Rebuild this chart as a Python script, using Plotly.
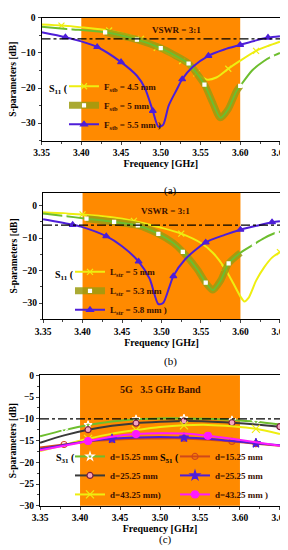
import plotly.graph_objects as go

# ---------------- data ----------------
# panel (a): S11 for different F_stb
freq_a_45 = [3.35, 3.375, 3.40, 3.435, 3.46, 3.475, 3.495, 3.51, 3.527, 3.545, 3.558, 3.57, 3.585, 3.60, 3.62, 3.635, 3.65]
s11_a_45 = [-1.9, -2.2, -2.7, -3.6, -4.9, -6.0, -8.5, -10.3, -12.3, -15.8, -17.6, -17.0, -14.5, -12.2, -9.4, -8.0, -6.8]
freq_a_5 = [3.35, 3.385, 3.43, 3.47, 3.50, 3.515, 3.535, 3.555, 3.565, 3.575, 3.585, 3.595, 3.60, 3.615, 3.63, 3.64, 3.65]
s11_a_5 = [-2.5, -3.2, -4.1, -6.2, -8.6, -10.3, -13.0, -19.0, -24.0, -28.5, -26.0, -21.0, -19.4, -15.0, -12.3, -11.0, -10.0]
freq_a_55 = [3.35, 3.38, 3.40, 3.42, 3.45, 3.47, 3.48, 3.49, 3.497, 3.503, 3.51, 3.52, 3.527, 3.54, 3.56, 3.58, 3.60, 3.62, 3.635, 3.65]
s11_a_55 = [-4.1, -5.5, -6.7, -8.3, -12.6, -16.5, -20.0, -26.5, -31.0, -30.5, -25.0, -20.5, -17.5, -14.0, -10.8, -9.0, -7.7, -6.4, -5.6, -5.2]

# panel (b): S11 for different L_str
freq_b_5 = [3.35, 3.40, 3.435, 3.465, 3.50, 3.525, 3.55, 3.565, 3.58, 3.59, 3.60, 3.605, 3.61, 3.62, 3.63, 3.64, 3.65]
s11_b_5 = [-2.0, -2.7, -3.5, -4.7, -6.8, -8.6, -11.5, -14.5, -19.2, -23.5, -28.0, -29.5, -28.5, -23.0, -19.0, -16.0, -14.3]
freq_b_53 = [3.35, 3.377, 3.405, 3.44, 3.47, 3.496, 3.515, 3.527, 3.545, 3.556, 3.565, 3.575, 3.585, 3.60, 3.617, 3.63, 3.646, 3.65]
s11_b_53 = [-2.4, -3.2, -4.0, -5.0, -6.1, -8.7, -11.5, -14.2, -19.5, -23.7, -26.0, -23.0, -17.8, -14.5, -11.9, -10.0, -8.2, -8.0]
freq_b_58 = [3.35, 3.3875, 3.40, 3.43, 3.45, 3.471, 3.485, 3.496, 3.502, 3.51, 3.515, 3.53, 3.556, 3.58, 3.60, 3.62, 3.64, 3.65]
s11_b_58 = [-4.2, -5.9, -6.6, -9.4, -12.5, -17.2, -22.5, -30.3, -30.0, -25.0, -21.7, -16.5, -11.3, -9.0, -7.4, -6.2, -5.1, -4.8]

# panel (c): S31 / S51 for different d
freq_c = [3.35, 3.38, 3.41, 3.44, 3.47, 3.50, 3.53, 3.56, 3.59, 3.62, 3.65]
s31_c_1525 = [-14.0, -12.6, -11.4, -10.6, -10.1, -9.9, -9.9, -10.0, -10.3, -10.7, -11.3]
s31_c_2525 = [-15.5, -13.8, -12.5, -11.6, -11.0, -10.7, -10.5, -10.6, -10.9, -11.3, -11.8]
s31_c_4325 = [-17.4, -16.0, -14.6, -13.4, -12.6, -11.9, -11.5, -11.4, -11.7, -12.3, -13.5]
s51_c_1525 = [-16.6, -15.9, -15.2, -14.8, -14.6, -14.5, -14.5, -14.8, -15.2, -15.7, -16.2]
s51_c_2525 = [-17.0, -16.0, -15.1, -14.6, -14.3, -14.2, -14.3, -14.6, -15.1, -15.6, -16.1]
s51_c_4325 = [-17.2, -16.2, -15.1, -14.1, -13.5, -13.3, -13.4, -13.9, -14.6, -15.4, -16.2]

band = [3.40, 3.60]
vswr_ab = -6.0
ref_c = -10.0
x_ticks = [3.35, 3.40, 3.45, 3.50, 3.55, 3.60, 3.65]

# ---------------- styling ----------------
W, H = 288, 550
ML, MR = 30, 10
PW = W - ML - MR
FONT = "Liberation Serif"
TXT = "#3a1000"
YEL, GRN, BLU = "#EEEE10", "#6DBE2E", "#4E1ED8"
DRK, RED, MAG = "#3a3a3a", "#D0481A", "#FF1AFF"
OLIVE = "rgba(155,155,15,0.85)"
ORANGE = "#FF8A00"


def px_x(p):
    return (p - ML) / PW


def px_y(p):
    return 1 - p / H


fig = go.Figure()

panels = [
    dict(sfx="", x0=33.5, x1=272, y0=5, y1=130, yr=[-35, 0], dt=10, lab="(a)", labx=162, laby=172, so=2),
    dict(sfx="2", x0=35, x1=272, y0=183, y1=312, yr=[-35, 4], dt=10, lab="(b)", labx=162, laby=355, so=2),
    dict(sfx="3", x0=32, x1=272, y0=369, y1=502, yr=[-30, 0], dt=5, lab="(c)", labx=157, laby=545, so=0),
]


def add_series(sfx, fx, fy, color, symbol, mk_idx, name, legend, msize=6, mcolor=None, mline=None,
               width=2, band_tint=False):
    xa, ya = "x" + sfx, "y" + sfx
    if band_tint:
        inb = [i for i in range(len(fx)) if band[0] <= fx[i] <= band[1]]
        fig.add_trace(go.Scatter(x=[fx[i] for i in inb], y=[fy[i] for i in inb], mode="lines",
                                 line=dict(color=OLIVE, width=7, shape="spline", smoothing=0.7),
                                 xaxis=xa, yaxis=ya, showlegend=False, hoverinfo="skip"))
    fig.add_trace(go.Scatter(x=fx, y=fy, mode="lines", line=dict(color=color, width=width, shape="spline", smoothing=0.7),
                             xaxis=xa, yaxis=ya, showlegend=False, hoverinfo="skip"))
    marker = dict(symbol=symbol, size=msize, color=mcolor or color,
                  line=dict(color=mline or color, width=1.2))
    fig.add_trace(go.Scatter(x=[fx[i] for i in mk_idx], y=[fy[i] for i in mk_idx], mode="markers",
                             marker=marker, xaxis=xa, yaxis=ya, showlegend=False, hoverinfo="skip"))
    lcol = OLIVE if band_tint else color
    fig.add_trace(go.Scatter(x=[None], y=[None], mode="lines+markers", line=dict(color=lcol, width=7 if band_tint else width),
                             marker=marker, xaxis=xa, yaxis=ya, name=name, legend=legend, showlegend=True))


# (a)
add_series("", freq_a_45, s11_a_45, YEL, "x-thin-open", [1, 3, 5, 6, 8, 9, 12, 14], "F<sub>stb</sub> = 4.5 mm", "legend", mline=YEL)
add_series("", freq_a_5, s11_a_5, GRN, "square", [1, 2, 3, 4, 6, 7, 12, 15], "F<sub>stb</sub> = 5 mm", "legend",
           msize=3, mcolor="white", mline="white", band_tint=True)
add_series("", freq_a_55, s11_a_55, BLU, "triangle-up", [1, 3, 4, 7, 12, 14, 16, 18], "F<sub>stb</sub> = 5.5 mm )", "legend")
# (b)
add_series("2", freq_b_5, s11_b_5, YEL, "x-thin-open", [1, 3, 5, 8, 16], "L<sub>str</sub> = 5 mm", "legend2")
add_series("2", freq_b_53, s11_b_53, GRN, "square", [1, 2, 3, 4, 5, 7, 9, 12, 14, 16], "L<sub>str</sub> = 5.3 mm", "legend2",
           msize=3, mcolor="white", mline="white", band_tint=True)
add_series("2", freq_b_58, s11_b_58, BLU, "triangle-up", [1, 3, 5, 10, 12, 14, 16], "L<sub>str</sub> = 5.8 mm )", "legend2")
# (c)
add_series("3", freq_c, s31_c_1525, GRN, "star-open", [1, 2, 4, 6, 8, 9], "d=15.25 mm", "legend3", mcolor="white", mline=GRN)
add_series("3", freq_c, s31_c_2525, DRK, "circle", [2, 4, 6, 8, 10], "d=25.25 mm", "legend3", msize=6, mcolor="#F4A6C0", mline="#7a1f3d")
add_series("3", freq_c, s31_c_4325, YEL, "x-thin-open", [2, 4, 6, 9], "d=43.25 mm)", "legend3", msize=8)
add_series("3", freq_c, s51_c_1525, RED, "circle-open", [1, 2, 3, 6, 8, 9], "d=15.25 mm", "legend4", msize=6)
add_series("3", freq_c, s51_c_2525, BLU, "star", [3, 6, 9], "d=25.25 mm", "legend4", msize=7)
add_series("3", freq_c, s51_c_4325, MAG, "circle", [2, 4, 7], "d=43.25 mm )", "legend4", msize=7)

tickfont = dict(family=FONT, size=9.5, color="black", weight="bold")
titlefont = dict(family=FONT, size=10, color="black", weight="bold")

layout = dict(
    width=W, height=H, margin=dict(l=ML, r=MR, t=0, b=0),
    paper_bgcolor="white", plot_bgcolor="white", showlegend=True,
    shapes=[], annotations=[],
)
for p in panels:
    s = p["sfx"]
    layout["xaxis" + s] = dict(
        domain=[px_x(p["x0"]), px_x(p["x1"])], anchor="y" + s, range=[3.3499, 3.6501],
        tickvals=x_ticks, tickformat=".2f", ticks="outside", ticklen=3, tickwidth=1,
        ticklabeloverflow="allow",
        minor=dict(ticks="outside", ticklen=2, dtick=0.025, tick0=3.35),
        showline=True, mirror=True, linecolor="black", linewidth=1,
        showgrid=False, zeroline=False, tickfont=tickfont,
        title=dict(text="Frequency [GHz]", font=titlefont, standoff=p["so"]),
    )
    layout["yaxis" + s] = dict(
        domain=[px_y(p["y1"]), px_y(p["y0"])], anchor="x" + s, range=p["yr"],
        dtick=p["dt"], tick0=0, ticks="outside", ticklen=3, tickwidth=1,
        minor=dict(ticks="outside", ticklen=2, dtick=p["dt"] / 2),
        showline=True, mirror=True, linecolor="black", linewidth=1,
        showgrid=False, zeroline=False, tickfont=tickfont,
        title=dict(text="S-parameters [dB]", font=dict(family=FONT, size=9.5, color="black", weight="bold"), standoff=2),
    )
    layout["shapes"].append(dict(type="rect", xref="x" + s, yref="y" + s + " domain", x0=band[0], x1=band[1],
                                 y0=0, y1=1, fillcolor=ORANGE, line_width=0, layer="below"))
    layout["shapes"].append(dict(type="line", xref="x" + s + " domain", yref="y" + s, x0=0, x1=1,
                                 y0=ref_c if s == "3" else vswr_ab, y1=ref_c if s == "3" else vswr_ab,
                                 line=dict(color="black", width=1.3, dash="dashdot"), layer="above"))
    layout["annotations"].append(dict(text=p["lab"], xref="paper", yref="paper", x=px_x(p["labx"]), y=px_y(p["laby"]),
                                      showarrow=False, font=dict(family=FONT, size=11, color="black")))

annfont = dict(family=FONT, size=9, color=TXT, weight="bold")
layout["annotations"] += [
    dict(text="VSWR = 3:1", xref="x", yref="y", x=3.52, y=-3.4, showarrow=False, font=annfont),
    dict(text="VSWR = 3:1", xref="x2", yref="y2", x=3.505, y=-1.6, showarrow=False, font=annfont),
    dict(text="5G   3.5 GHz Band", xref="x3", yref="y3", x=3.50, y=-3.2, showarrow=False,
         font=dict(family=FONT, size=10, color=TXT, weight="bold")),
]

# legend group prefixes (as text), placed on the first legend row
grpfont = dict(family=FONT, size=10, color="black", weight="bold")
for txt, xr, yc in [("S<sub>11</sub> (", 62, 78), ("S<sub>11</sub> (", 68, 267),
                    ("S<sub>31</sub> (", 69, 454), ("S<sub>51</sub> (", 173, 454)]:
    layout["annotations"].append(dict(text=txt, xref="paper", yref="paper", x=px_x(xr), y=px_y(yc),
                                      xanchor="right", yanchor="middle", showarrow=False, font=grpfont))

legfont = dict(family=FONT, size=9, color=TXT, weight="bold")


def leg(x, ymid):
    return dict(x=px_x(x), y=px_y(ymid), xref="paper", yref="paper", xanchor="left", yanchor="middle",
                bgcolor="rgba(0,0,0,0)", borderwidth=0, font=legfont, itemwidth=30)


layout["legend"] = leg(56, 94)
layout["legend2"] = leg(62, 283)
layout["legend3"] = leg(62, 471)
layout["legend4"] = leg(167, 471)

fig.update_layout(**layout)
fig.write_html("out.html")
